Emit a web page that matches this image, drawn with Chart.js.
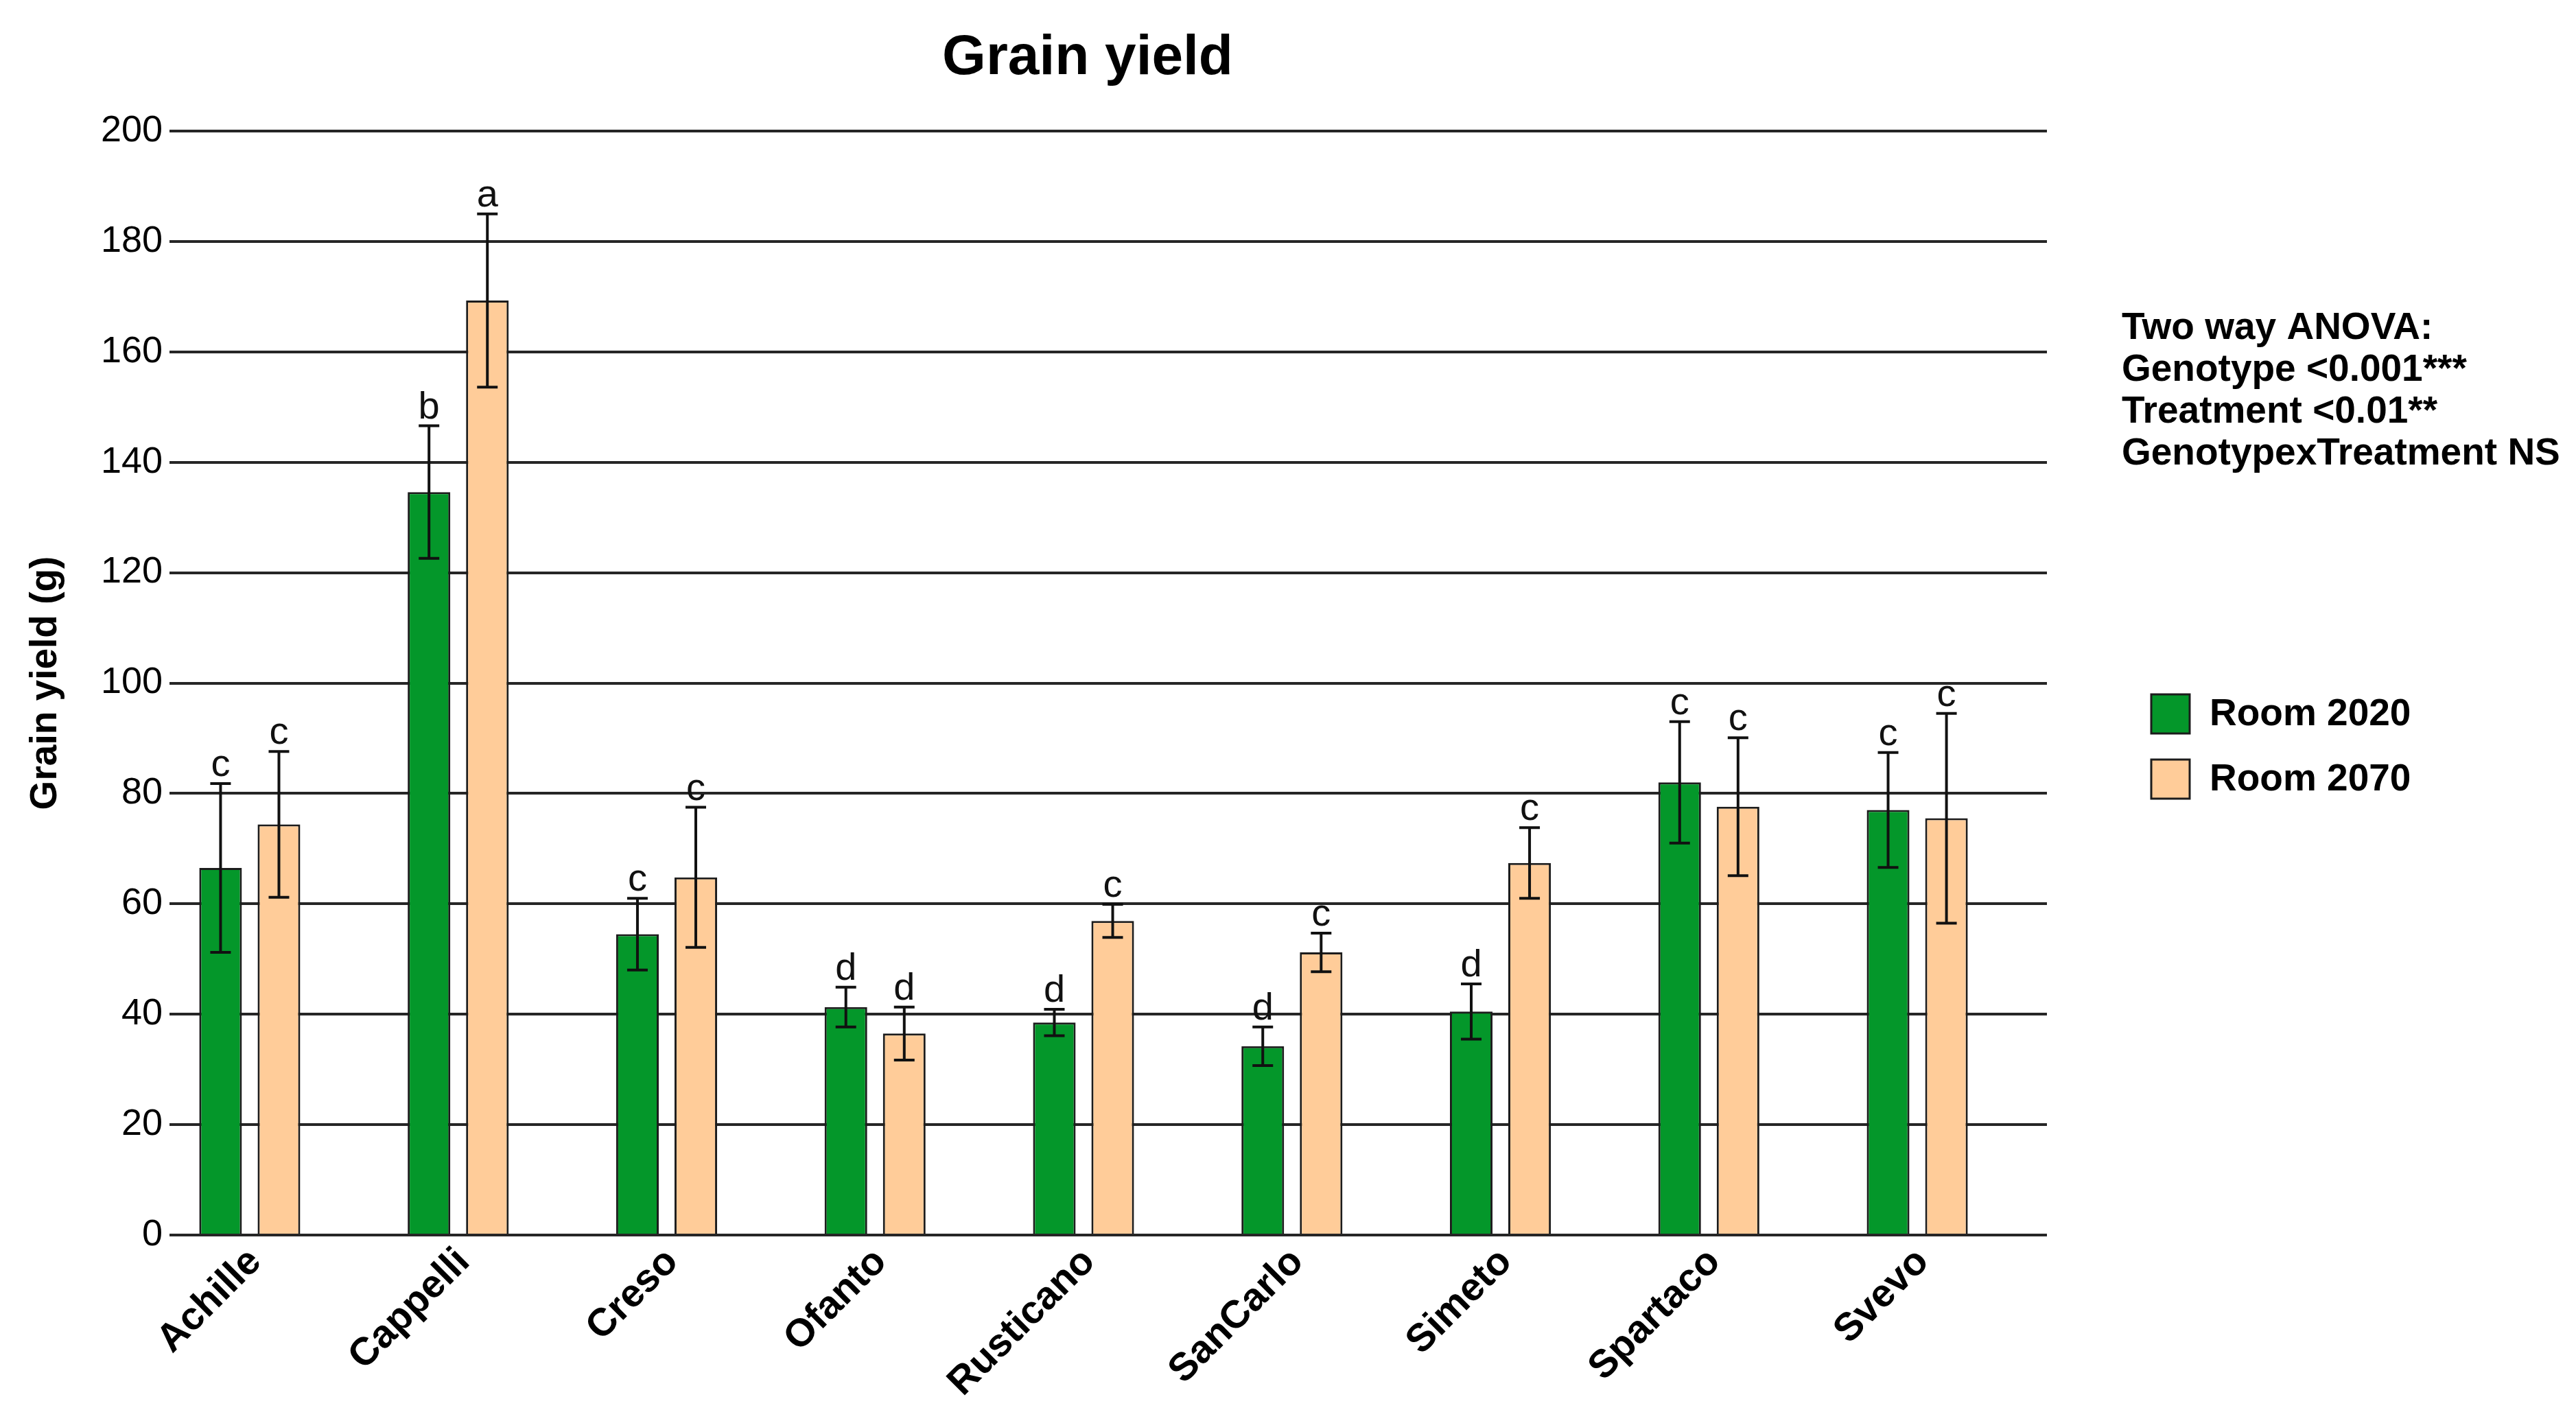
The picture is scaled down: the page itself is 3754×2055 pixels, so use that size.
<!DOCTYPE html>
<html>
<head>
<meta charset="utf-8">
<script src="https://cdn.jsdelivr.net/npm/chart.js@4.4.1/dist/chart.umd.min.js"></script>
<style>
  html, body { margin: 0; padding: 0; background: #fff; }
  #wrap { width: 3754px; height: 2055px; position: relative; }
</style>
</head>
<body>
<div id="wrap"><canvas id="chart"></canvas></div>
<script>
const categories = ['Achille', 'Cappelli', 'Creso', 'Ofanto', 'Rusticano', 'SanCarlo', 'Simeto', 'Spartaco', 'Svevo'];
const room2020 = [66.5, 134.6, 54.5, 41.3, 38.5, 34.2, 40.5, 82.0, 77.0];
const room2020Err = [15.3, 12.0, 6.5, 3.6, 2.4, 3.5, 5.0, 11.0, 10.4];
const room2070 = [74.4, 169.3, 64.8, 36.5, 56.9, 51.2, 67.4, 77.6, 75.5];
const room2070Err = [13.2, 15.7, 12.7, 4.8, 3.0, 3.5, 6.4, 12.5, 19.0];
const letters2020 = ['c', 'b', 'c', 'd', 'd', 'd', 'd', 'c', 'c'];
const letters2070 = ['c', 'a', 'c', 'd', 'c', 'c', 'c', 'c', 'c'];
const anovaLines = ['Two way ANOVA:', 'Genotype <0.001***', 'Treatment <0.01**', 'GenotypexTreatment NS'];

const FONT = "'Liberation Sans', Arial, Helvetica, sans-serif";
const errs = [room2020Err, room2070Err];
const letters = [letters2020, letters2070];

// error bars + significance letters on top of each bar
const errorBars = {
  id: 'errorBars',
  afterDatasetsDraw(chart) {
    const ctx = chart.ctx;
    const y = chart.scales.y;
    chart.data.datasets.forEach((ds, di) => {
      const meta = chart.getDatasetMeta(di);
      meta.data.forEach((bar, i) => {
        const v = ds.data[i].y;
        const e = errs[di][i];
        const top = y.getPixelForValue(v + e);
        const bot = y.getPixelForValue(v - e);
        ctx.save();
        ctx.strokeStyle = '#111';
        ctx.lineWidth = 4;
        ctx.beginPath();
        ctx.moveTo(bar.x, top); ctx.lineTo(bar.x, bot);
        ctx.moveTo(bar.x - 15, top); ctx.lineTo(bar.x + 15, top);
        ctx.moveTo(bar.x - 15, bot); ctx.lineTo(bar.x + 15, bot);
        ctx.stroke();
        ctx.fillStyle = '#111';
        ctx.font = '56px ' + FONT;
        ctx.textAlign = 'center';
        ctx.textBaseline = 'alphabetic';
        ctx.fillText(letters[di][i], bar.x, top - 11);
        ctx.restore();
      });
    });
  }
};

// title, anova note and legend
const extras = {
  id: 'extras',
  afterDraw(chart) {
    const ctx = chart.ctx;
    ctx.save();
    ctx.fillStyle = '#000';
    ctx.textAlign = 'center';
    ctx.textBaseline = 'alphabetic';
    ctx.font = 'bold 82px ' + FONT;
    ctx.fillText('Grain yield', 1585, 108);

    ctx.textAlign = 'left';
    ctx.font = 'bold 55px ' + FONT;
    anovaLines.forEach((t, i) => ctx.fillText(t, 3092, 494 + i * 61));

    chart.data.datasets.forEach((ds, i) => {
      const by = 1012 + i * 95;
      ctx.fillStyle = ds.backgroundColor;
      ctx.fillRect(3135, by, 56, 57);
      ctx.strokeStyle = '#1c1c1c';
      ctx.lineWidth = 3;
      ctx.strokeRect(3135, by, 56, 57);
      ctx.fillStyle = '#000';
      ctx.textBaseline = 'middle';
      ctx.fillText(ds.label, 3220, by + 30);
    });
    ctx.restore();
  }
};

new Chart(document.getElementById('chart'), {
  type: 'bar',
  data: {
    datasets: [
      {
        label: 'Room 2020',
        data: room2020.map((v, i) => ({ x: i, y: v })),
        backgroundColor: '#04972a',
        borderColor: '#1c1c1c',
        borderWidth: 3
      },
      {
        label: 'Room 2070',
        data: room2070.map((v, i) => ({ x: i, y: v })),
        backgroundColor: '#ffcc99',
        borderColor: '#1c1c1c',
        borderWidth: 3
      }
    ]
  },
  options: {
    responsive: true,
    maintainAspectRatio: false,
    animation: false,
    devicePixelRatio: 1,
    categoryPercentage: 0.56,
    barPercentage: 0.73,
    layout: { padding: { top: 191, right: 771, left: 0, bottom: 0 } },
    plugins: {
      legend: { display: false },
      tooltip: { enabled: false },
      title: { display: false }
    },
    scales: {
      x: {
        type: 'linear',
        min: -0.385,
        max: 8.622,
        offset: false,
        grid: { display: false, drawTicks: false },
        border: { display: false },
        afterBuildTicks: (scale) => { scale.ticks = categories.map((c, i) => ({ value: i })); },
        afterFit: (scale) => { scale.height = 255; },
        ticks: {
          autoSkip: false,
          minRotation: 45,
          maxRotation: 45,
          padding: 6,
          labelOffset: 8,
          color: '#000',
          font: { family: FONT, size: 57, weight: 'bold' },
          callback: (v) => categories[v]
        }
      },
      y: {
        min: 0,
        max: 200,
        grid: { color: '#262626', lineWidth: 4, drawTicks: false },
        border: { display: false },
        afterFit: (scale) => { scale.width = 247; },
        ticks: {
          stepSize: 20,
          padding: 10,
          color: '#000',
          font: { family: FONT, size: 54 }
        },
        title: {
          display: true,
          text: 'Grain yield (g)',
          color: '#000',
          padding: { top: 34, bottom: 0 },
          font: { family: FONT, size: 55, weight: 'bold' }
        }
      }
    }
  },
  plugins: [errorBars, extras]
});
</script>
</body>
</html>
